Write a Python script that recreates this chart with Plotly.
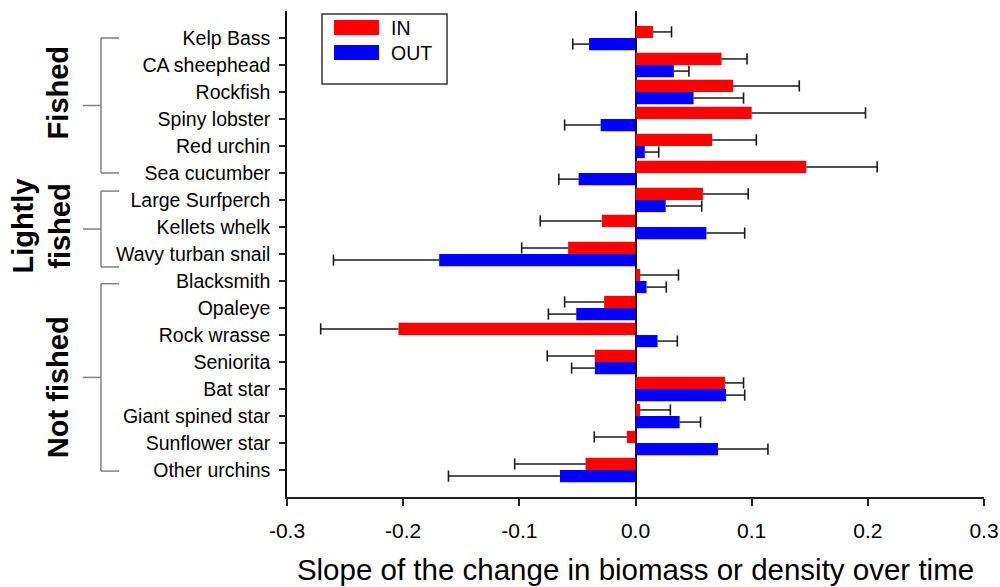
import plotly.graph_objects as go

# Species in display order (top to bottom)
species = [
    "Kelp Bass", "CA sheephead", "Rockfish", "Spiny lobster", "Red urchin",
    "Sea cucumber", "Large Surfperch", "Kellets whelk", "Wavy turban snail",
    "Blacksmith", "Opaleye", "Rock wrasse", "Seniorita", "Bat star",
    "Giant spined star", "Sunflower star", "Other urchins",
]

# Slope of change over time, inside (IN) and outside (OUT) reserves
slope_in = [0.015, 0.074, 0.084, 0.100, 0.066, 0.147, 0.058, -0.029, -0.058,
            0.004, -0.027, -0.204, -0.035, 0.077, 0.004, -0.0075, -0.043]
slope_out = [-0.040, 0.033, 0.050, -0.030, 0.008, -0.049, 0.026, 0.061, -0.169,
             0.0095, -0.051, 0.019, -0.035, 0.078, 0.038, 0.071, -0.065]

# Standard errors (drawn on the side away from zero)
se_in = [0.016, 0.022, 0.057, 0.098, 0.038, 0.061, 0.039, 0.053, 0.040,
         0.033, 0.034, 0.067, 0.041, 0.016, 0.026, 0.028, 0.061]
se_out = [0.014, 0.013, 0.043, 0.031, 0.012, 0.017, 0.031, 0.033, 0.091,
          0.017, 0.024, 0.017, 0.020, 0.016, 0.018, 0.043, 0.096]

# Species groups: label, first and last row covered by the bracket
groups = [
    ("Fished", -0.0, 5.0),
    ("Lightly<br>fished", 5.67, 8.48),
    ("Not fished", 9.1, 16.04),
]

FONT = "Liberation Sans, Arial, sans-serif"
BAR_W = 0.45
pos = list(range(len(species)))

fig = go.Figure()

series = [
    ("IN", slope_in, se_in, "#FF0000", -BAR_W),
    ("OUT", slope_out, se_out, "#0000FF", 0.0),
]

for name, vals, errs, color, off in series:
    fig.add_trace(go.Bar(
        x=vals, y=pos, orientation="h", name=name,
        width=BAR_W, offset=off,
        marker=dict(color=color, line=dict(width=0)),
        showlegend=False,
    ))

# One-sided error whiskers with end caps
for name, vals, errs, color, off in series:
    wx, wy, cx, cy = [], [], [], []
    for p, v, e in zip(pos, vals, errs):
        yc = p + off + BAR_W / 2
        end = v + e if v >= 0 else v - e
        wx += [v, end, None]
        wy += [yc, yc, None]
        cx.append(end)
        cy.append(yc)
    fig.add_trace(go.Scatter(
        x=wx, y=wy, mode="lines", line=dict(color="#1a1a1a", width=1.5),
        hoverinfo="skip", showlegend=False,
    ))
    fig.add_trace(go.Scatter(
        x=cx, y=cy, mode="markers",
        marker=dict(symbol="line-ns", size=8,
                    line=dict(color="#1a1a1a", width=1.6)),
        hoverinfo="skip", showlegend=False,
    ))

shapes = []
annotations = []

# Group brackets to the left of the species labels
X_V, X_END, X_MID = -0.2669, -0.241, -0.2927
for label, y0, y1 in groups:
    line = dict(color="#808080", width=1.5)
    shapes += [
        dict(type="line", xref="paper", yref="y", x0=X_V, x1=X_V, y0=y0, y1=y1, line=line),
        dict(type="line", xref="paper", yref="y", x0=X_V, x1=X_END, y0=y0, y1=y0, line=line),
        dict(type="line", xref="paper", yref="y", x0=X_V, x1=X_END, y0=y1, y1=y1, line=line),
        dict(type="line", xref="paper", yref="y", x0=X_MID, x1=X_V,
             y0=(y0 + y1) / 2, y1=(y0 + y1) / 2, line=line),
    ]

group_label_pos = {"Fished": (-0.3285, 2.05), "Lightly<br>fished": (-0.352, 6.96),
                   "Not fished": (-0.3285, 12.93)}
for label, _, _ in groups:
    gx, gy = group_label_pos[label]
    annotations.append(dict(
        text=f"<b>{label}</b>", xref="paper", yref="y", x=gx, y=gy,
        textangle=-90, showarrow=False, xanchor="center", yanchor="middle",
        font=dict(family=FONT, size=29, color="black"),
    ))

# Legend box
shapes.append(dict(type="rect", xref="paper", yref="paper",
                   x0=0.0502, x1=0.2296, y0=0.8498, y1=0.9938,
                   line=dict(color="#333333", width=1.5), fillcolor="white"))
legend_rows = [("IN", "#FF0000", 0.9660), ("OUT", "#0000FF", 0.9146)]
for name, color, yc in legend_rows:
    h = 15 / 486 / 2
    shapes.append(dict(type="rect", xref="paper", yref="paper",
                       x0=0.0674, x1=0.1320, y0=yc - h, y1=yc + h,
                       line=dict(width=0), fillcolor=color))
    annotations.append(dict(text=name, xref="paper", yref="paper",
                            x=0.1462, y=yc, xanchor="left", yanchor="middle",
                            showarrow=False,
                            font=dict(family=FONT, size=19.5, color="black")))

fig.update_layout(
    width=1000, height=587,
    margin=dict(l=287, r=16, t=11, b=90),
    paper_bgcolor="white", plot_bgcolor="white",
    barmode="overlay",
    shapes=shapes, annotations=annotations,
    xaxis=dict(
        range=[-0.3, 0.3], tickvals=[-0.3, -0.2, -0.1, 0.0, 0.1, 0.2, 0.3],
        ticktext=["-0.3", "-0.2", "-0.1", "0.0", "0.1", "0.2", "0.3"],
        automargin=False,
        showgrid=False, zeroline=True, zerolinecolor="#111111", zerolinewidth=1.5,
        showline=True, linecolor="#222222", linewidth=1.5,
        ticks="outside", ticklen=7, tickwidth=1.5, tickcolor="#222222",
        ticklabelstandoff=7,
        tickfont=dict(family=FONT, size=21, color="black"),
        title=dict(text="Slope of the change in biomass or density over time",
                   font=dict(family=FONT, size=29.5, color="black"), standoff=18),
    ),
    yaxis=dict(
        range=[17, -1], tickvals=pos, ticktext=species,
        automargin=False,
        showgrid=False, zeroline=False,
        showline=True, linecolor="#111111", linewidth=1.5,
        ticks="outside", ticklen=6, tickwidth=1.5, tickcolor="#222222",
        ticklabelstandoff=5,
        tickfont=dict(family=FONT, size=19.5, color="black"),
    ),
)

fig.write_html("out.html")
